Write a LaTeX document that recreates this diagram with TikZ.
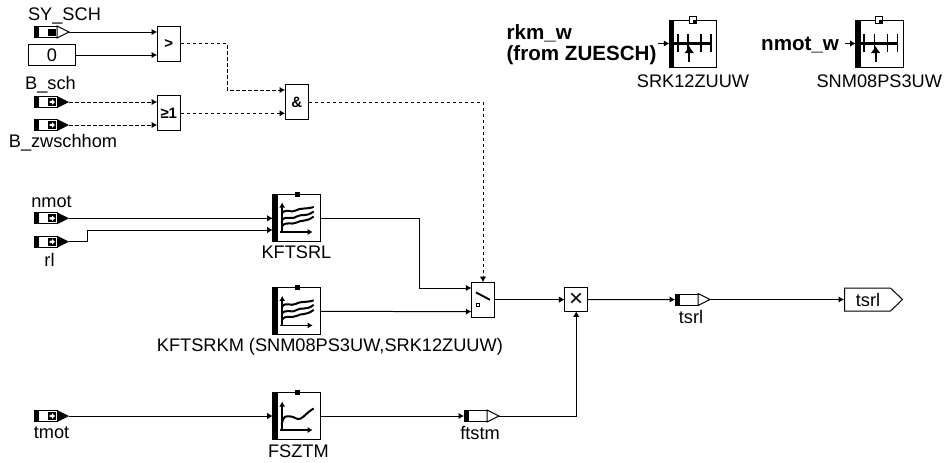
\documentclass[tikz,border=0pt]{standalone}
\usepackage{fontspec}
\setmainfont{Liberation Sans}
\usetikzlibrary{arrows.meta, positioning}

\tikzset{
  portbase/.style={minimum width=35pt, minimum height=12pt},
  framebox/.style={draw, fill=white, minimum width=47.4pt, minimum height=47pt},
  inport/.pic={
    \node[portbase] (-box) at (0,0) {};
    \begin{scope}[shift={(-17.5,-6)}]
      \draw[fill=white] (0.5,0.5) rectangle (23,11.5);
      \fill (0,0) rectangle (5,12);
      \fill (14,2) rectangle (22,10);
      \fill[white] (15.5,4.8) rectangle (18,7.2) (18,3.2) -- (21,6) -- (18,8.8) -- cycle;
      \fill (23,0) -- (35,6) -- (23,12) -- cycle;
    \end{scope}},
  sysport/.pic={
    \node[portbase] (-box) at (0,0) {};
    \begin{scope}[shift={(-17.5,-6)}]
      \draw[fill=white] (0.5,0.5) rectangle (23,11.5);
      \fill (0,0) rectangle (5,12);
      \fill (14,2.5) rectangle (22,9.5);
      \draw[fill=white] (23,0) -- (35,6) -- (23,12) -- cycle;
    \end{scope}},
  outport/.pic={
    \node[portbase] (-box) at (0,0) {};
    \begin{scope}[shift={(-17.5,-6)}]
      \draw[fill=white] (0.5,0.5) rectangle (23,11.5);
      \fill (0,0) rectangle (5,12);
      \draw[fill=white] (23,0) -- (35,6) -- (23,12) -- cycle;
    \end{scope}},
  outflag/.pic={
    \node[minimum width=59pt, minimum height=24pt] (-box) at (0,0) {};
    \draw (-29,-11.5) -- (17,-11.5) -- (29,0) -- (17,11.5) -- (-29,11.5) -- cycle;
    \node[font=\fontsize{18.2}{20}\selectfont] (-text) at (-5.5,0) {tsrl};},
  switchblock/.pic={
    \node[draw, fill=white, minimum width=23.5pt, minimum height=35pt] (-box) at (0,0) {};
    \begin{scope}[shift={(-11.75,-17.5)}]
      \draw[line width=1.9pt] (4.7,10.3) -- (18.7,17.7);
      \draw (5.2,21.7) rectangle (8,24.3);
    \end{scope}},
  axisblock/.pic={
    \node[framebox] (-box) at (0,0) {};
    \begin{scope}[shift={(-23.7,-23.5)}]
      \draw[fill=white] (20,-3.3) rectangle (27,3.3);
      \fill (23.5,0) rectangle (27,3.3);
      \fill (0,0) rectangle (5,47);
      \draw[line width=3.2pt] (5,23.5) -- (42.5,23.5);
      \draw[line width=1.7pt] (8.5,14) -- (8.5,32) (19,14) -- (19,32) (32,14) -- (32,32) (42,14) -- (42,32);
      \draw[-{Latex[length=7pt,width=10pt]}, line width=1.8pt] (20,42) -- (20,26);
    \end{scope}},
  mapblock/.pic={
    \node[framebox] (-box) at (0,0) {};
    \begin{scope}[shift={(-23.7,-23.5)}]
      \fill (22,-2.5) rectangle (27,2);
      \fill (0,0) rectangle (5,47);
      \draw[-{Latex[length=5pt,width=6pt]}, line width=1.6pt] (9.5,38) -- (9.5,8);
      \draw[-{Latex[length=5pt,width=6pt]}, line width=1.6pt] (7,37.5) -- (40,37.5);
      \draw[line width=2pt] (9,19) .. controls (14,13) and (18,19) .. (23,16) .. controls (28,13) and (33,15) .. (41,12.5);
      \draw[line width=2pt] (9,26) .. controls (14,20) and (18,26) .. (24,22) .. controls (29,19) and (33,23) .. (41,17);
      \draw[line width=2pt] (9,32) .. controls (14,26) and (18,31) .. (24,28) .. controls (29,25) and (33,28) .. (41,22);
    \end{scope}},
  curveblock/.pic={
    \node[framebox] (-box) at (0,0) {};
    \begin{scope}[shift={(-23.7,-23.5)}]
      \fill (22,-2.5) rectangle (27,2);
      \fill (0,0) rectangle (5,47);
      \draw[-{Latex[length=5pt,width=6pt]}, line width=1.6pt] (9.5,38) -- (9.5,9);
      \draw[-{Latex[length=5pt,width=6pt]}, line width=1.6pt] (7,37.5) -- (40,37.5);
      \draw[line width=2pt] (9,32) .. controls (11,22) and (13,24) .. (18,24) .. controls (22,24) and (24,28) .. (28,26) .. controls (32,24) and (34,20) .. (41,16);
    \end{scope}}
}

\begin{document}
\begin{tikzpicture}[
  x=1pt, y=-1pt,
  line width=1pt,
  every node/.style={inner sep=0pt, outer sep=0pt},
  lab/.style={font=\fontsize{18.2}{20}\selectfont},
  boldlab/.style={font=\fontsize{20.6}{21}\selectfont\bfseries, align=left},
  gate/.style={draw, fill=white, minimum width=23.5pt, minimum height=35pt, font=\fontsize{15}{15}\selectfont\bfseries},
  mult/.style={draw, fill=white, minimum width=23.5pt, minimum height=23.5pt, font=\fontsize{24}{24}\selectfont},
  constbox/.style={draw, fill=white, minimum width=46.5pt, minimum height=21pt, font=\fontsize{18.2}{20}\selectfont},
  arrow/.style={-{Latex[length=5.5pt,width=6.5pt]}},
  bitarrow/.style={arrow, dash pattern=on 3.5pt off 2.5pt}
]
% inputs of the enable logic
\pic (sysch) at (51.5,32) {sysport};
\node[constbox] (zero) at (52,55) {0};
\pic (bsch) at (51.5,102) {inport};
\pic (bzwschhom) at (51.5,125) {inport};
\node[lab, above=2pt of sysch-box, xshift=13pt] (lsysch) {SY\_SCH};
\node[lab, above=3pt of bsch-box, xshift=-1pt] (lbsch) {B\_sch};
\node[lab, below=3pt of bzwschhom-box, xshift=11.5pt] (lbzwschhom) {B\_zwschhom};

\node[gate] (greater) at (168.8,43.5) {>};
\node[gate] (orgate) at (168.8,113.3) {≥1};
\node[gate] (andgate) at (296.8,102) {\&};

\draw[arrow] (sysch-box.east) -- (sysch-box.east -| greater.west);
\draw[arrow] (zero.east) -- (zero.east -| greater.west);
\draw[bitarrow] (bsch-box.east) -- (bsch-box.east -| orgate.west);
\draw[bitarrow] (bzwschhom-box.east) -- (bzwschhom-box.east -| orgate.west);
\coordinate (andtop) at (285,90);
\draw[bitarrow] (greater.east) -| (227,90) -- (andtop);
\draw[bitarrow] (orgate.east) -- (orgate.east -| andgate.west);

% axis blocks top right
\pic (srk) at (693,43.5) {axisblock};
\pic (snm) at (879.3,43.5) {axisblock};
\node[boldlab, anchor=east] (lrkm) at (656.5,45) {rkm\_w\\(from ZUESCH)};
\node[boldlab, anchor=east] (lnmotw) at (839,45.5) {nmot\_w};
\node[lab, below=8pt of srk-box] (lsrk) {SRK12ZUUW};
\node[lab, below=8pt of snm-box] (lsnm) {SNM08PS3UW};
\coordinate (srkin) at (658,43.5);
\coordinate (snmin) at (845,43.5);
\draw[arrow] (srkin) -- (srk-box.west);
\draw[arrow] (snmin) -- (snm-box.west);

% map blocks
\pic (nmot) at (51.5,218.3) {inport};
\pic (rl) at (51.5,241.7) {inport};
\pic (tmot) at (51.5,416) {inport};
\node[lab, above=5pt of nmot-box] (lnmot) {nmot};
\node[lab, below=6pt of rl-box, xshift=-2pt] (lrl) {rl};
\node[lab, below=5pt of tmot-box] (ltmot) {tmot};

\pic (kftsrl) at (296.4,218) {mapblock};
\pic (kftsrkm) at (296.4,311.4) {mapblock};
\pic (fsztm) at (296.4,416) {curveblock};
\node[lab, below=4pt of kftsrl-box] (lkftsrl) {KFTSRL};
\node[lab, below=3pt of kftsrkm-box, xshift=33.5pt] (lkftsrkm) {KFTSRKM (SNM08PS3UW,SRK12ZUUW)};
\node[lab, below=5pt of fsztm-box, xshift=2pt] (lfsztm) {FSZTM};

\draw[arrow] (nmot-box.east) -- (nmot-box.east -| kftsrl-box.west);
\coordinate (rlmap) at (272.7,230);
\draw[arrow] (rl-box.east) -| (87,230) -- (rlmap);
\draw[arrow] (tmot-box.east) -- (fsztm-box.west);

% switch and output
\pic (switch) at (483,299.6) {switchblock};
\node[mult] (product) at (576.2,299.6) {×};
\pic (tsrlport) at (692.5,299.5) {outport};
\pic (ftstm) at (481.5,416) {outport};
\pic (tsrlout) at (873.5,299.5) {outflag};
\node[lab, below=5pt of tsrlport-box, xshift=-1.5pt] (ltsrlport) {tsrl};
\node[lab, below=4pt of ftstm-box, xshift=-1.5pt] (lftstm) {ftstm};

\coordinate (swtop) at (471.3,288);
\coordinate (swbot) at (471.3,311.6);
\draw[arrow] (kftsrl-box.east) -| (419,288) -- (swtop);
\draw[arrow] (kftsrkm-box.east) -- (swbot);
\draw[bitarrow] (andgate.east) -| (switch-box.north);
\draw[arrow] (switch-box.east) -- (product.west);
\draw[arrow] (product.east) -- (tsrlport-box.west);
\draw[arrow] (tsrlport-box.east) -- (tsrlout-box.west);
\draw[arrow] (fsztm-box.east) -- (ftstm-box.west);
\draw[arrow] (ftstm-box.east) -| (product.south);

\useasboundingbox (0,0) rectangle (946,463);
\end{tikzpicture}
\end{document}
